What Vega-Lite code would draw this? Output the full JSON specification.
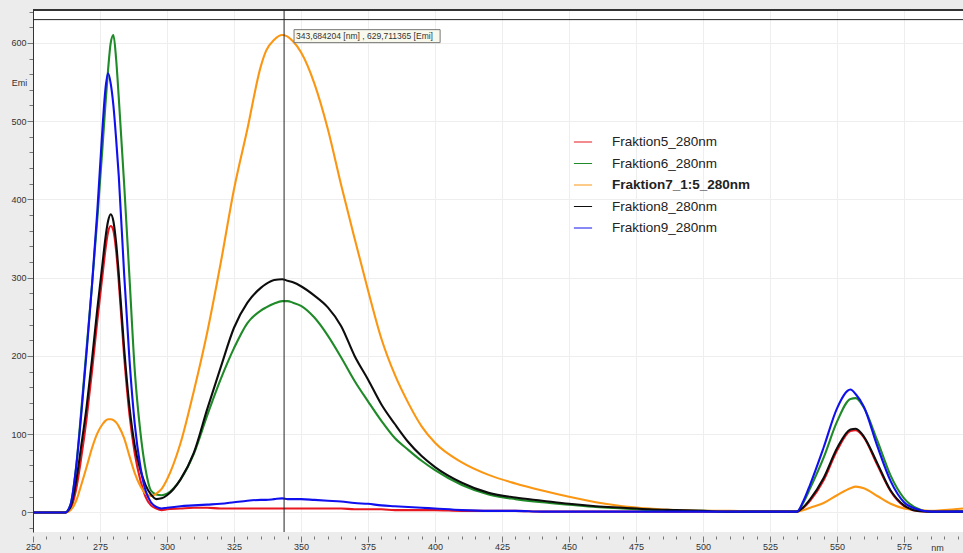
{
  "$schema": "https://vega.github.io/schema/vega-lite/v6.json",
  "width": 930,
  "height": 522,
  "autosize": {"type": "none"},
  "padding": {"left": 33, "top": 10, "right": 0, "bottom": 21},
  "background": "#ececec",
  "config": {"view": {"fill": "white", "stroke": null}, "font": "Liberation Sans"},
  "data": {"values": [
    {"nm":250,"F5":0,"F6":0,"F7":0,"F8":0,"F9":0},
    {"nm":262,"F5":0,"F6":0,"F7":0,"F8":0,"F9":0},
    {"nm":264,"F5":5,"F6":10,"F7":3,"F8":7,"F9":10},
    {"nm":266,"F5":28,"F6":55,"F7":14,"F8":38,"F9":55},
    {"nm":268,"F5":70,"F6":130,"F7":35,"F8":85,"F9":125},
    {"nm":270,"F5":120,"F6":210,"F7":58,"F8":135,"F9":205},
    {"nm":272,"F5":180,"F6":290,"F7":82,"F8":195,"F9":290},
    {"nm":274,"F5":245,"F6":375,"F7":101,"F8":260,"F9":385},
    {"nm":276,"F5":305,"F6":470,"F7":113,"F8":320,"F9":495},
    {"nm":277,"F5":335,"F6":520,"F7":117,"F8":350,"F9":540},
    {"nm":278,"F5":358,"F6":565,"F7":119,"F8":372,"F9":561},
    {"nm":279,"F5":366,"F6":600,"F7":119,"F8":381,"F9":548},
    {"nm":280,"F5":360,"F6":610,"F7":118,"F8":372,"F9":520},
    {"nm":281,"F5":335,"F6":580,"F7":115,"F8":345,"F9":478},
    {"nm":282,"F5":295,"F6":530,"F7":110,"F8":305,"F9":430},
    {"nm":284,"F5":200,"F6":420,"F7":95,"F8":210,"F9":305},
    {"nm":286,"F5":125,"F6":300,"F7":72,"F8":135,"F9":195},
    {"nm":288,"F5":75,"F6":180,"F7":50,"F8":85,"F9":112},
    {"nm":290,"F5":42,"F6":105,"F7":34,"F8":55,"F9":60},
    {"nm":292,"F5":20,"F6":55,"F7":24,"F8":35,"F9":28},
    {"nm":294,"F5":9,"F6":28,"F7":21,"F8":23,"F9":13},
    {"nm":296,"F5":5,"F6":23,"F7":24,"F8":17,"F9":7},
    {"nm":298,"F5":3,"F6":22,"F7":30,"F8":18,"F9":5},
    {"nm":300,"F5":4,"F6":24,"F7":42,"F8":22,"F9":6},
    {"nm":305,"F5":5,"F6":42,"F7":88,"F8":42,"F9":8},
    {"nm":310,"F5":6,"F6":75,"F7":155,"F8":76,"F9":9},
    {"nm":315,"F5":6,"F6":124,"F7":230,"F8":132,"F9":10},
    {"nm":320,"F5":5,"F6":170,"F7":318,"F8":185,"F9":11},
    {"nm":325,"F5":5,"F6":210,"F7":413,"F8":236,"F9":13},
    {"nm":330,"F5":5,"F6":242,"F7":490,"F8":268,"F9":15},
    {"nm":335,"F5":5,"F6":258,"F7":570,"F8":287,"F9":16},
    {"nm":337,"F5":5,"F6":262,"F7":590,"F8":292,"F9":16},
    {"nm":340,"F5":5,"F6":267,"F7":604,"F8":297,"F9":17},
    {"nm":343,"F5":5,"F6":270,"F7":610,"F8":298,"F9":18},
    {"nm":345,"F5":5,"F6":270,"F7":608,"F8":296,"F9":17},
    {"nm":347,"F5":5,"F6":268,"F7":602,"F8":294,"F9":17},
    {"nm":350,"F5":5,"F6":264,"F7":588,"F8":289,"F9":17},
    {"nm":355,"F5":5,"F6":249,"F7":548,"F8":277,"F9":16},
    {"nm":360,"F5":5,"F6":226,"F7":490,"F8":262,"F9":15},
    {"nm":365,"F5":5,"F6":198,"F7":418,"F8":238,"F9":14},
    {"nm":370,"F5":4,"F6":168,"F7":350,"F8":200,"F9":12},
    {"nm":375,"F5":4,"F6":142,"F7":284,"F8":170,"F9":11},
    {"nm":380,"F5":4,"F6":117,"F7":222,"F8":138,"F9":9},
    {"nm":385,"F5":3,"F6":95,"F7":176,"F8":113,"F9":8},
    {"nm":390,"F5":3,"F6":80,"F7":140,"F8":90,"F9":7},
    {"nm":395,"F5":3,"F6":66,"F7":110,"F8":72,"F9":6},
    {"nm":400,"F5":3,"F6":54,"F7":89,"F8":58,"F9":5},
    {"nm":410,"F5":2,"F6":35,"F7":64,"F8":38,"F9":3},
    {"nm":420,"F5":2,"F6":23,"F7":48,"F8":25,"F9":2},
    {"nm":430,"F5":2,"F6":17,"F7":37,"F8":19,"F9":2},
    {"nm":440,"F5":1,"F6":13,"F7":28,"F8":15,"F9":1},
    {"nm":450,"F5":1,"F6":10,"F7":20,"F8":11,"F9":1},
    {"nm":460,"F5":1,"F6":7,"F7":13,"F8":8,"F9":1},
    {"nm":470,"F5":1,"F6":5,"F7":8,"F8":6,"F9":1},
    {"nm":480,"F5":1,"F6":3,"F7":5,"F8":4,"F9":1},
    {"nm":490,"F5":1,"F6":2,"F7":3,"F8":3,"F9":1},
    {"nm":500,"F5":1,"F6":2,"F7":2,"F8":2,"F9":1},
    {"nm":510,"F5":1,"F6":1,"F7":2,"F8":1,"F9":1},
    {"nm":520,"F5":1,"F6":1,"F7":1,"F8":1,"F9":1},
    {"nm":535,"F5":1,"F6":1,"F7":1,"F8":1,"F9":1},
    {"nm":537.5,"F5":6,"F6":13,"F7":3,"F8":7,"F9":15},
    {"nm":540,"F5":15,"F6":31,"F7":6,"F8":17,"F9":36},
    {"nm":545,"F5":41,"F6":70,"F7":12,"F8":44,"F9":83},
    {"nm":550,"F5":79,"F6":116,"F7":22,"F8":82,"F9":133},
    {"nm":555,"F5":104,"F6":145,"F7":31,"F8":106,"F9":157},
    {"nm":557,"F5":105,"F6":146,"F7":33,"F8":107,"F9":151},
    {"nm":560,"F5":96,"F6":134,"F7":31,"F8":97,"F9":135},
    {"nm":565,"F5":61,"F6":92,"F7":21,"F8":63,"F9":85},
    {"nm":570,"F5":27,"F6":47,"F7":11,"F8":28,"F9":40},
    {"nm":575,"F5":8,"F6":18,"F7":5,"F8":9,"F9":13},
    {"nm":580,"F5":2,"F6":5,"F7":3,"F8":2,"F9":4},
    {"nm":585,"F5":1,"F6":1,"F7":2,"F8":1,"F9":1},
    {"nm":590,"F5":1,"F6":1,"F7":3,"F8":1,"F9":1},
    {"nm":597,"F5":1,"F6":1,"F7":5,"F8":1,"F9":1}
  ]},
  "layer": [
    {
      "transform": [{"fold": ["F5","F6","F7","F8","F9"], "as": ["series","v"]}],
      "mark": {"type": "line", "strokeWidth": 2.1, "interpolate": "monotone"},
      "encoding": {
        "x": {"field": "nm", "type": "quantitative",
          "scale": {"domain": [250, 597], "nice": false, "zero": false},
          "axis": {
            "values": [250,255,260,265,270,275,280,285,290,295,300,305,310,315,320,325,330,335,340,345,350,355,360,365,370,375,380,385,390,395,400,405,410,415,420,425,430,435,440,445,450,455,460,465,470,475,480,485,490,495,500,505,510,515,520,525,530,535,540,545,550,555,560,565,570,575,580,585,590,595],
            "tickCount": 1000,
            "labelExpr": "datum.value % 25 === 0 ? datum.label : ''",
            "format": "d",
            "tickSize": {"condition": {"test": "datum.value % 25 === 0", "value": 6}, "value": 3},
            "grid": true, "gridColor": "#eeeeee",
            "gridOpacity": {"condition": {"test": "datum.value % 25 === 0", "value": 1}, "value": 0},
            "domain": false, "offset": 4, "tickColor": "#777",
            "labelFontSize": 9, "labelColor": "#333", "labelPadding": 0, "labelBaseline": "top",
            "labelFlush": false, "labelOverlap": false,
            "title": "nm", "titleX": 904, "titleY": 11, "titleFontSize": 9,
            "titleFontWeight": "normal", "titleColor": "#333", "titleAlign": "center", "titleBaseline": "middle"
          }
        },
        "y": {"field": "v", "type": "quantitative",
          "scale": {"domain": [-25, 642], "nice": false, "zero": false},
          "axis": {
            "values": [-20,0,20,40,60,80,100,120,140,160,180,200,220,240,260,280,300,320,340,360,380,400,420,440,460,480,500,520,540,560,580,600,620,640],
            "tickCount": 1000,
            "labelExpr": "datum.value % 100 === 0 ? datum.label : ''",
            "format": "d",
            "tickSize": {"condition": {"test": "datum.value % 100 === 0", "value": 6}, "value": 4},
            "grid": true, "gridColor": "#eeeeee",
            "gridOpacity": {"condition": {"test": "datum.value % 100 === 0", "value": 1}, "value": 0},
            "domain": true, "domainColor": "#333", "tickColor": "#777",
            "labelFontSize": 9, "labelColor": "#333", "labelPadding": 1, "labelOverlap": false,
            "title": "Emi", "titleAngle": 0, "titleX": -14, "titleY": 72, "titleFontSize": 9,
            "titleFontWeight": "normal", "titleColor": "#333", "titleAlign": "center", "titleBaseline": "middle"
          }
        },
        "color": {"field": "series", "type": "nominal",
          "scale": {"domain": ["F5","F6","F7","F8","F9"], "range": ["#e8161e", "#1f8a28", "#fb9612", "#0d0d0d", "#1010ee"]},
          "legend": {
            "orient": "none", "legendX": 540, "legendY": 122, "title": null, "padding": 0,
            "symbolType": "stroke", "symbolSize": 330, "symbolStrokeWidth": 1,
            "labelFontSize": 13.5, "labelFont": "Liberation Sans", "labelColor": "#222",
            "labelOffset": 19, "rowPadding": 4.5,
            "labelExpr": "datum.value === 'F7' ? 'Fraktion7_1:5_280nm' : 'Fraktion' + slice(datum.value, 1) + '_280nm'",
            "encode": {"labels": {"update": {"fontWeight": {"signal": "datum.value === 'F7' ? 'bold' : 'normal'"}}}}
          }
        }
      }
    },
    {
      "data": {"values": [{}]},
      "mark": {"type": "rule", "color": "#333", "strokeWidth": 2},
      "encoding": {"y": {"datum": 642, "type": "quantitative"}}
    },
    {
      "data": {"values": [{}]},
      "mark": {"type": "rule", "color": "#222", "strokeWidth": 1},
      "encoding": {"y": {"datum": 629.711, "type": "quantitative"}}
    },
    {
      "data": {"values": [{}]},
      "mark": {"type": "rule", "color": "#222", "strokeWidth": 1},
      "encoding": {"x": {"datum": 343.684, "type": "quantitative"}}
    },
    {
      "data": {"values": [{}]},
      "mark": {"type": "rect", "fill": "#f8f8ec", "stroke": "#777", "strokeWidth": 1},
      "encoding": {
        "x": {"datum": 347.4, "type": "quantitative"},
        "x2": {"datum": 401.9},
        "y": {"datum": 616.9, "type": "quantitative"},
        "y2": {"datum": 600.3}
      }
    },
    {
      "data": {"values": [{}]},
      "mark": {"type": "text", "align": "left", "baseline": "middle", "dx": 12, "fontSize": 8.5, "color": "#333", "font": "Liberation Sans"},
      "encoding": {
        "x": {"datum": 343.684, "type": "quantitative"},
        "y": {"datum": 608.6, "type": "quantitative"},
        "text": {"value": "343,684204 [nm] , 629,711365 [Emi]"}
      }
    }
  ]
}
